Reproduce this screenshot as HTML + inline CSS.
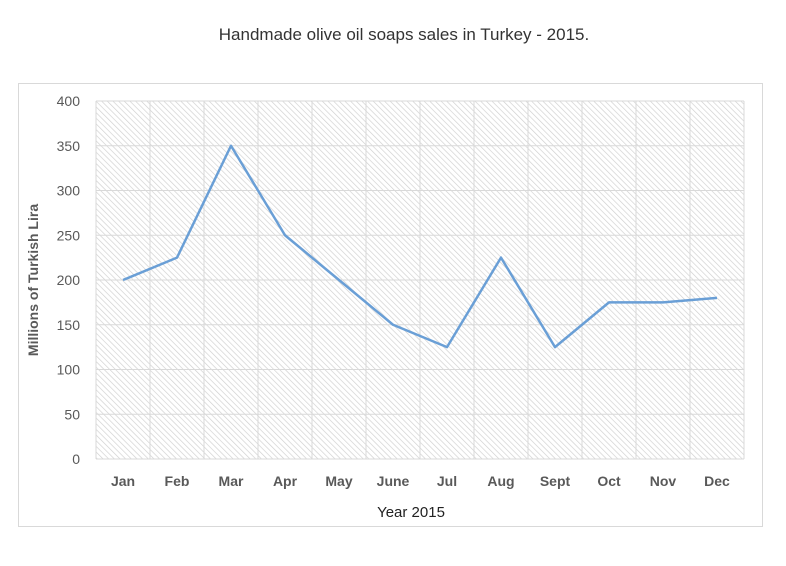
<!DOCTYPE html>
<html><head><meta charset="utf-8"><style>
body{margin:0;background:#fff;font-family:"Liberation Sans",sans-serif}
</style></head><body>
<svg width="786" height="561" viewBox="0 0 786 561">
<defs><pattern id="hatch" width="4" height="4" patternUnits="userSpaceOnUse" patternTransform="rotate(-45)">
<rect width="4" height="4" fill="#fff"/><line x1="0" y1="0" x2="0" y2="4" stroke="#cfcfcf" stroke-width="1.3"/></pattern></defs>
<text x="404" y="40" text-anchor="middle" font-size="17" fill="#333">Handmade olive oil soaps sales in Turkey - 2015.</text>
<rect x="18.5" y="83.5" width="744" height="443" fill="none" stroke="#d9d9d9"/>
<rect x="96" y="101" width="648" height="358" fill="url(#hatch)"/>
<g id="grid"></g><g id="axes"></g>
<text x="38" y="280" transform="rotate(-90 38 280)" text-anchor="middle" font-size="14" font-weight="bold" fill="#595959">Millions of Turkish Lira</text>
<text x="411" y="517" text-anchor="middle" font-size="15" fill="#222">Year 2015</text>
</svg>
<script>
const categories=["Jan","Feb","Mar","Apr","May","June","Jul","Aug","Sept","Oct","Nov","Dec"];
const sales=[200,225,350,250,200,150,125,225,125,175,175,180];
const yTicks=[0,50,100,150,200,250,300,350,400];
const NS="http://www.w3.org/2000/svg";
const L=96,R=744,T=101,B=459;
const y=v=>B-(v/400)*(B-T);
const bw=(R-L)/categories.length;
const x=i=>L+bw*(i+0.5);
const g=document.getElementById('grid'),a=document.getElementById('axes');
function mk(t,at,p){const e=document.createElementNS(NS,t);for(const k in at)e.setAttribute(k,at[k]);p.appendChild(e);return e;}
yTicks.forEach(v=>{
 const l=mk('line',{x1:L,x2:R,y1:y(v),y2:y(v),stroke:'#d9d9d9'},g);
 
 
 const t=mk('text',{x:80,y:y(v)+5,'text-anchor':'end','font-size':14,fill:'#595959'},a);
 t.textContent=v;
 
 
});
for(let i=0;i<=categories.length;i++){
 const l=mk('line',{x1:L+bw*i,x2:L+bw*i,y1:T,y2:B,stroke:'#d9d9d9'},g);
 
 
}
categories.forEach((c,i)=>{
 const t=mk('text',{x:x(i),y:486,'text-anchor':'middle','font-size':14,'font-weight':'bold',fill:'#595959'},a);
 t.textContent=c;
 
 
});
const p=mk('polyline',{points:sales.map((v,i)=>x(i)+','+y(v)).join(' '),fill:'none',stroke:'#6a9fd6','stroke-width':2.5,'stroke-linejoin':'round'},a);


</script>
</body></html>
